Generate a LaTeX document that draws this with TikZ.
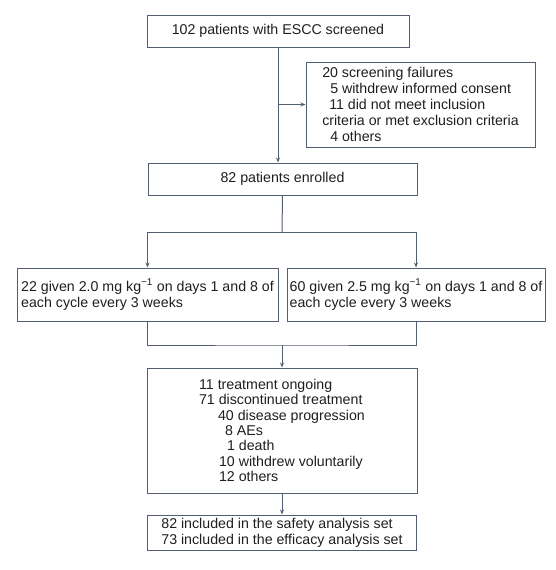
\documentclass[tikz,border=0pt]{standalone}
\usepackage{fontspec}
\setmainfont{Liberation Sans}
\usepackage{xcolor}
\usetikzlibrary{arrows.meta}
\definecolor{linegray}{RGB}{84,94,114}
\definecolor{inkblack}{RGB}{30,30,30}

\begin{document}
\begin{tikzpicture}[x=1pt,y=-1pt,
    box/.style={draw=linegray, line width=1pt, inner sep=0pt, text=inkblack,
        font=\fontsize{14.2pt}{16pt}\selectfont, align=left},
    flow/.style={draw=linegray, line width=1pt},
    arr/.style={flow, -{Stealth[length=5pt,width=4pt]}}]
    \useasboundingbox (0,0) rectangle (556,570);
    \node[box, minimum width=262pt, minimum height=32pt, align=center] (screened) at (278,31) {102 patients with ESCC screened};
    \node[box, minimum width=229pt, minimum height=85pt] (failures) at (420.5,104.5)
        {20 screening failures\\
         \hspace{8pt}5 withdrew informed consent\\
         \hspace{7pt}11 did not meet inclusion\\
         criteria or met exclusion criteria\\
         \hspace{8pt}4 others};
    \node[box, minimum width=269pt, minimum height=32pt, align=center] (enrolled) at (282.5,179) {82 patients enrolled};
    \node[box, minimum width=261pt, minimum height=53pt] (lowdose) at (147.5,294.5)
        {22 given 2.0 mg kg\textsuperscript{−1} on days 1 and 8 of\\each cycle every 3 weeks};
    \node[box, minimum width=258pt, minimum height=53pt] (highdose) at (416,294.5)
        {60 given 2.5 mg kg\textsuperscript{−1} on days 1 and 8 of\\each cycle every 3 weeks};
    \node[box, minimum width=270pt, minimum height=125pt,
        font=\fontsize{14.2pt}{15.3pt}\selectfont] (outcome) at (282,430.5)
        {11 treatment ongoing\\
         71 discontinued treatment\\
         \hspace{19pt}40 disease progression\\
         \hspace{26pt}8 AEs\\
         \hspace{28pt}1 death\\
         \hspace{20pt}10 withdrew voluntarily\\
         \hspace{20pt}12 others};
    \node[box, minimum width=269pt, minimum height=35pt] (sets) at (282,532.5)
        {82 included in the safety analysis set\\73 included in the efficacy analysis set};
    \coordinate (split) at (282,232);
    \coordinate (merge) at (282,345);
    \draw[arr] (screened.south) -- (screened.south |- enrolled.north);
    \draw[arr] (screened.south |- failures.west) -- (failures.west);
    \draw[flow] (enrolled.south) -- (split);
    \draw[flow] (split -| lowdose) -- (split -| highdose);
    \draw[arr] (split -| lowdose) -- (lowdose.north);
    \draw[arr] (split -| highdose) -- (highdose.north);
    \draw[flow] (lowdose.south) |- (merge) -| (highdose.south);
    \draw[arr] (merge) -- (outcome.north);
    \draw[arr] (outcome.south) -- (sets.north);
\end{tikzpicture}
\end{document}
